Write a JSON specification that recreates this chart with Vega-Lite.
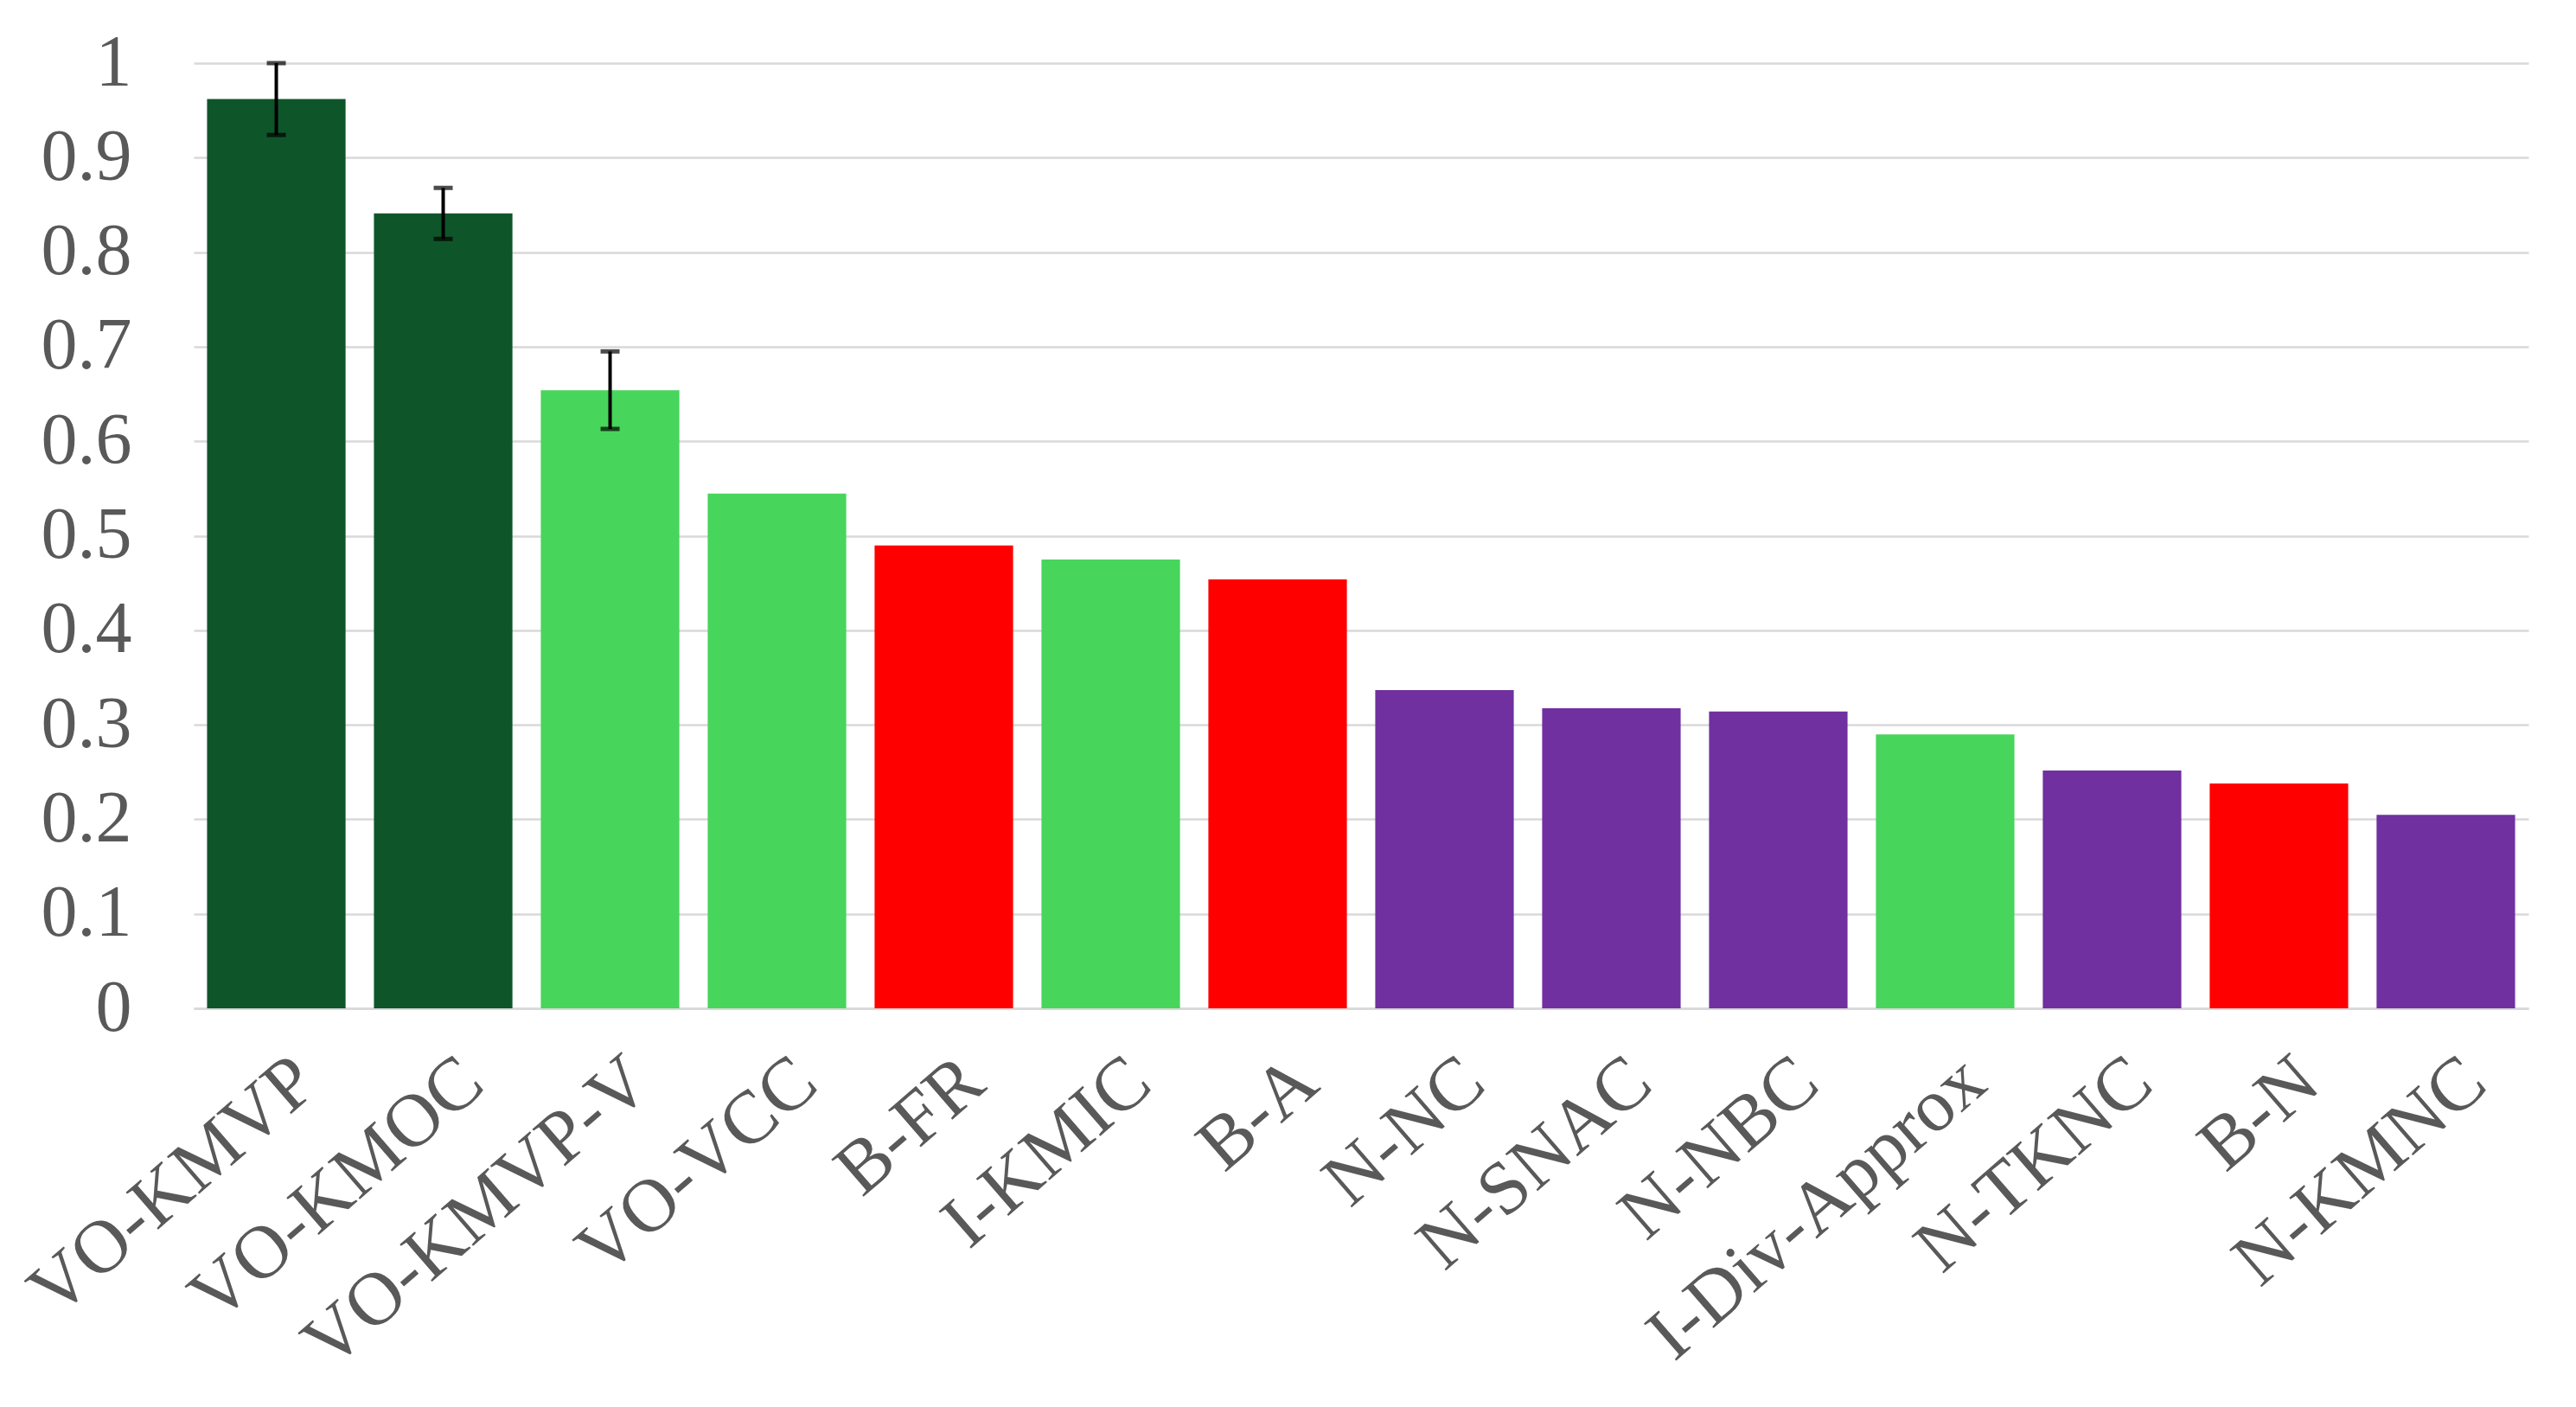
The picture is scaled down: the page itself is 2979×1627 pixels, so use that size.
{
  "$schema": "https://vega.github.io/schema/vega-lite/v6.json",
  "autosize": "none",
  "width": 2700,
  "height": 1093,
  "padding": {"left": 224, "top": 73, "right": 55, "bottom": 461},
  "background": "white",
  "config": {
    "view": {"stroke": null},
    "font": "Liberation Serif"
  },
  "data": {
    "values": [
      {"method": "VO-KMVP", "value": 0.962, "lo": 0.924, "hi": 1.0, "group": "dark green"},
      {"method": "VO-KMOC", "value": 0.841, "lo": 0.814, "hi": 0.868, "group": "dark green"},
      {"method": "VO-KMVP-V", "value": 0.654, "lo": 0.613, "hi": 0.695, "group": "light green"},
      {"method": "VO-VCC", "value": 0.5445, "group": "light green"},
      {"method": "B-FR", "value": 0.4896, "group": "red"},
      {"method": "I-KMIC", "value": 0.4749, "group": "light green"},
      {"method": "B-A", "value": 0.4539, "group": "red"},
      {"method": "N-NC", "value": 0.3366, "group": "purple"},
      {"method": "N-SNAC", "value": 0.3174, "group": "purple"},
      {"method": "N-NBC", "value": 0.314, "group": "purple"},
      {"method": "I-Div-Approx", "value": 0.2899, "group": "light green"},
      {"method": "N-TKNC", "value": 0.2515, "group": "purple"},
      {"method": "B-N", "value": 0.2378, "group": "red"},
      {"method": "N-KMNC", "value": 0.2046, "group": "purple"}
    ]
  },
  "encoding": {
    "x": {
      "field": "method",
      "type": "nominal",
      "sort": null,
      "scale": {"paddingInner": 0.17, "paddingOuter": 0.08},
      "axis": {
        "title": null,
        "labelAngle": -41,
        "labelFontSize": 87,
        "labelFont": "Liberation Serif",
        "labelColor": "#595959",
        "labelPadding": 40,
        "labelOffset": 6,
        "labelLimit": 1000,
        "ticks": false,
        "domain": true,
        "domainColor": "#D9D9D9",
        "domainWidth": 3,
        "grid": false
      }
    }
  },
  "layer": [
    {
      "mark": {"type": "bar"},
      "encoding": {
        "y": {
          "field": "value",
          "type": "quantitative",
          "scale": {"domain": [0, 1], "nice": false},
          "axis": {
            "title": null,
            "values": [0, 0.1, 0.2, 0.3, 0.4, 0.5, 0.6, 0.7, 0.8, 0.9, 1],
            "labelExpr": "datum.value === 0 ? '0' : datum.value === 1 ? '1' : format(datum.value, '.1f')",
            "labelFontSize": 84,
            "labelFont": "Liberation Serif",
            "labelColor": "#595959",
            "labelPadding": 72,
            "ticks": false,
            "domain": false,
            "grid": true,
            "gridColor": "#D9D9D9",
            "gridWidth": 2.5
          }
        },
        "color": {
          "field": "group",
          "type": "nominal",
          "legend": null,
          "scale": {
            "domain": ["dark green", "light green", "red", "purple"],
            "range": ["#0E562A", "#48D55B", "#FF0000", "#7030A0"]
          }
        }
      }
    },
    {
      "mark": {"type": "rule", "color": "black", "strokeWidth": 4},
      "encoding": {
        "y": {"field": "lo", "type": "quantitative"},
        "y2": {"field": "hi"}
      }
    },
    {
      "mark": {"type": "tick", "color": "black", "size": 22, "thickness": 5, "orient": "horizontal"},
      "encoding": {
        "y": {"field": "lo", "type": "quantitative"}
      }
    },
    {
      "mark": {"type": "tick", "color": "black", "size": 22, "thickness": 5, "orient": "horizontal"},
      "encoding": {
        "y": {"field": "hi", "type": "quantitative"}
      }
    }
  ]
}
